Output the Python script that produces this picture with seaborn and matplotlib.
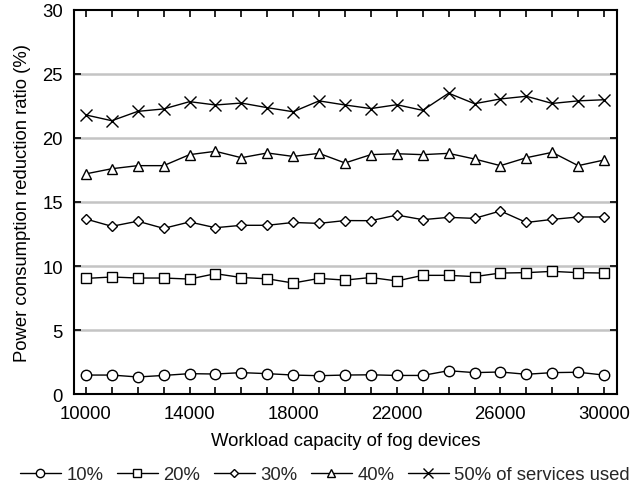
import matplotlib
matplotlib.use("Agg")
import matplotlib.pyplot as plt
from matplotlib.ticker import MultipleLocator
import pandas as pd
import seaborn as sns

capacity = list(range(10000, 30001, 1000))

services_10 = [1.48, 1.48, 1.33, 1.45, 1.59, 1.56, 1.67, 1.59, 1.48, 1.43, 1.48,
               1.50, 1.45, 1.45, 1.82, 1.67, 1.72, 1.54, 1.67, 1.70, 1.48]
services_20 = [9.03, 9.14, 9.06, 9.06, 8.98, 9.40, 9.10, 9.00, 8.67, 9.03, 8.90,
               9.10, 8.83, 9.27, 9.27, 9.17, 9.45, 9.48, 9.58, 9.48, 9.45]
services_30 = [13.67, 13.10, 13.50, 12.94, 13.44, 12.99, 13.18, 13.18, 13.40, 13.33, 13.55,
               13.54, 13.98, 13.62, 13.80, 13.72, 14.30, 13.40, 13.64, 13.83, 13.83]
services_40 = [17.20, 17.60, 17.84, 17.84, 18.70, 18.96, 18.46, 18.83, 18.56, 18.80, 18.05,
               18.70, 18.77, 18.70, 18.80, 18.36, 17.84, 18.46, 18.88, 17.84, 18.28]
services_50 = [21.80, 21.35, 22.08, 22.27, 22.84, 22.58, 22.73, 22.37, 22.05, 22.90, 22.58,
               22.30, 22.60, 22.16, 23.50, 22.68, 23.05, 23.26, 22.70, 22.90, 22.99]

series_labels = ["10%", "20%", "30%", "40%", "50% of services used"]
series_values = [services_10, services_20, services_30, services_40, services_50]
series_markers = ["o", "s", "D", "^", "x"]
marker_sizes = [7.5, 7.5, 5.5, 7.5, 8.5]

x_ticks = [10000, 14000, 18000, 22000, 26000, 30000]
y_ticks = [0, 5, 10, 15, 20, 25, 30]

sns.set_theme(style="white")
plt.rcParams["font.family"] = ["Liberation Sans", "DejaVu Sans"]

FS = 13.3

fig = plt.figure(figsize=(6.42, 4.89), dpi=100)
ax = fig.add_axes([74 / 642, 1 - 395 / 489, (617 - 74) / 642, (395 - 11) / 489])

for y in y_ticks[1:-1]:
    ax.axhline(y, color="#c4c4c4", linewidth=1.8, zorder=0)

for label, values, marker, ms in zip(series_labels, series_values, series_markers, marker_sizes):
    df = pd.DataFrame({"capacity": capacity, "ratio": values})
    sns.lineplot(data=df, x="capacity", y="ratio", ax=ax, color="black", linewidth=1.0,
                 marker=marker, markersize=ms, markerfacecolor="white",
                 markeredgecolor="black", markeredgewidth=1.0, label=label, zorder=3)

ax.set_xlim(9540, 30500)
ax.set_ylim(0, 30)
ax.set_xticks(x_ticks)
ax.xaxis.set_minor_locator(MultipleLocator(1000))
ax.set_yticks(y_ticks)

for side in ["left", "right", "top", "bottom"]:
    ax.spines[side].set_visible(True)
    ax.spines[side].set_color("black")
    ax.spines[side].set_linewidth(1.5)

ax.tick_params(axis="both", which="both", direction="in", length=5, width=1.2,
               color="black", top=True, right=True, bottom=True, left=True,
               labelsize=FS, labelcolor="black", pad=8)

ax.set_xlabel("Workload capacity of fog devices", fontsize=FS, color="black", labelpad=7)
ax.set_ylabel("Power consumption reduction ratio (%)", fontsize=FS, color="black", labelpad=8)

handles, labels = ax.get_legend_handles_labels()
ax.get_legend().remove()
fig.legend(handles, labels, loc="center", bbox_to_anchor=(325 / 642, 1 - 476 / 489),
           bbox_transform=fig.transFigure, ncol=5, frameon=False,
           fontsize=FS, handlelength=2.2, handletextpad=0.3, columnspacing=0.75,
           markerscale=0.8, borderaxespad=0, borderpad=0)

fig.savefig("out.png", dpi=100)
